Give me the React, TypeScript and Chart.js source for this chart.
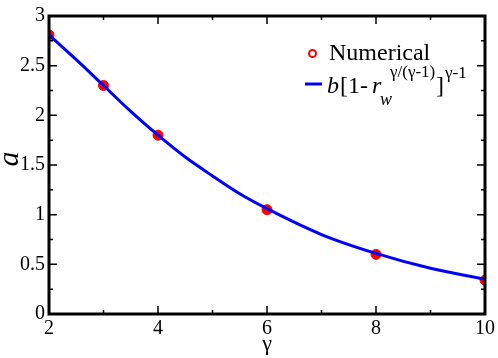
import React, { useEffect, useRef } from "react";
import { Chart, registerables } from "chart.js";
Chart.register(...registerables);

const gammaPoints = [2, 3, 4, 6, 8, 10];
const numericalA = [2.81, 2.3, 1.8, 1.05, 0.6, 0.34];
const curveGamma = [2, 2.5, 3, 3.5, 4, 4.5, 5, 5.5, 6, 7, 8, 9, 10];
const curveA = [2.81, 2.56, 2.3, 2.04, 1.8, 1.58, 1.39, 1.21, 1.06, 0.8, 0.61, 0.46, 0.35];
const xMajor = [2, 4, 6, 8, 10];
const xMinor = [3, 5, 7, 9];
const yMajor = [0, 0.5, 1, 1.5, 2, 2.5, 3];
const yMinor = [0.25, 0.75, 1.25, 1.75, 2.25, 2.75];
const xTitle = "γ";
const yTitle = "a";
const legendNumerical = "Numerical";

const SERIF = '"Liberation Serif"';

const framePlugin = {
  id: "frame",
  afterDraw(chart: any) {
    const { ctx, chartArea } = chart;
    const { left, right, top, bottom } = chartArea;
    const xs = chart.scales.x;
    const ys = chart.scales.y;
    ctx.save();
    ctx.strokeStyle = "#000";
    ctx.lineWidth = 1.5;
    const tick = (v: number, len: number, isX: boolean) => {
      ctx.beginPath();
      if (isX) {
        const px = xs.getPixelForValue(v);
        ctx.moveTo(px, bottom);
        ctx.lineTo(px, bottom - len);
        ctx.moveTo(px, top);
        ctx.lineTo(px, top + len);
      } else {
        const py = ys.getPixelForValue(v);
        ctx.moveTo(left, py);
        ctx.lineTo(left + len, py);
        ctx.moveTo(right, py);
        ctx.lineTo(right - len, py);
      }
      ctx.stroke();
    };
    xMajor.forEach((v) => tick(v, 8, true));
    xMinor.forEach((v) => tick(v, 4, true));
    yMajor.forEach((v) => tick(v, 8, false));
    yMinor.forEach((v) => tick(v, 4, false));
    ctx.lineWidth = 3;
    ctx.strokeRect(left, top, right - left, bottom - top);

    ctx.fillStyle = "#000";
    ctx.textAlign = "center";
    ctx.textBaseline = "middle";
    ctx.font = `22px ${SERIF}`;
    ctx.fillText(xTitle, (left + right) / 2, 344);
    ctx.save();
    ctx.translate(10, 159);
    ctx.rotate(-Math.PI / 2);
    ctx.font = `italic 30px ${SERIF}`;
    ctx.fillText(yTitle, 0, 0);
    ctx.restore();

    ctx.textAlign = "left";
    ctx.textBaseline = "alphabetic";
    ctx.strokeStyle = "#ff0000";
    ctx.lineWidth = 2;
    ctx.beginPath();
    ctx.arc(312.5, 53.5, 3.5, 0, Math.PI * 2);
    ctx.stroke();
    ctx.font = `24px ${SERIF}`;
    ctx.fillText(legendNumerical, 329, 60);

    ctx.strokeStyle = "#0000ff";
    ctx.lineWidth = 3;
    ctx.beginPath();
    ctx.moveTo(305, 84);
    ctx.lineTo(322, 84);
    ctx.stroke();

    const base = 93;
    ctx.font = `italic 24px ${SERIF}`;
    ctx.fillText("b", 327, base);
    ctx.font = `24px ${SERIF}`;
    ctx.fillText("[1-", 340, base);
    ctx.font = `italic 24px ${SERIF}`;
    ctx.fillText("r", 372, base);
    ctx.font = `italic 18px ${SERIF}`;
    ctx.fillText("w", 380, 105);
    ctx.font = `17px ${SERIF}`;
    ctx.fillText("γ/(γ-1)", 390, 77);
    ctx.font = `24px ${SERIF}`;
    ctx.fillText("]", 436, base);
    ctx.font = `17px ${SERIF}`;
    ctx.fillText("γ-1", 445, 78);
    ctx.restore();
  },
};

export default function App() {
  const ref = useRef<HTMLCanvasElement | null>(null);
  useEffect(() => {
    if (!ref.current) return;
    const chart = new Chart(ref.current, {
      type: "scatter",
      data: {
        datasets: [
          {
            label: "curve",
            data: curveGamma.map((g, i) => ({ x: g, y: curveA[i] })),
            showLine: true,
            borderColor: "#0000ff",
            backgroundColor: "#0000ff",
            borderWidth: 3,
            pointRadius: 0,
            cubicInterpolationMode: "monotone",
            order: 0,
          },
          {
            label: "Numerical",
            data: gammaPoints.map((g, i) => ({ x: g, y: numericalA[i] })),
            showLine: false,
            pointRadius: 5,
            pointBackgroundColor: "#ff0000",
            pointBorderColor: "#ff0000",
            pointBorderWidth: 1,
            order: 1,
          },
        ],
      },
      options: {
        responsive: false,
        animation: false,
        layout: { padding: { top: 9, right: 12, left: 0, bottom: 0 } },
        plugins: { legend: { display: false }, tooltip: { enabled: false } },
        scales: {
          x: {
            type: "linear",
            min: 2,
            max: 10,
            afterFit: (s: any) => {
              s.height = 44;
            },
            afterBuildTicks: (s: any) => {
              s.ticks = xMajor.map((v) => ({ value: v }));
            },
            grid: { display: false, drawTicks: false },
            border: { display: false },
            ticks: {
              color: "#000",
              padding: 3,
              font: { family: SERIF, size: 20 },
              maxRotation: 0,
              callback: (v: any) => String(v),
            },
          },
          y: {
            type: "linear",
            min: 0,
            max: 3,
            afterFit: (s: any) => {
              s.width = 49;
            },
            afterBuildTicks: (s: any) => {
              s.ticks = yMajor.map((v) => ({ value: v }));
            },
            grid: { display: false, drawTicks: false },
            border: { display: false },
            ticks: {
              color: "#000",
              padding: 4,
              font: { family: SERIF, size: 20 },
              callback: (v: any) => String(v),
            },
          },
        },
      },
      plugins: [framePlugin],
    } as any);
    return () => chart.destroy();
  }, []);
  return (
    <div style={{ position: "absolute", left: 0, top: 0, width: 498, height: 358, background: "#fff" }}>
      <canvas ref={ref} width={498} height={358} style={{ display: "block" }} />
    </div>
  );
}
